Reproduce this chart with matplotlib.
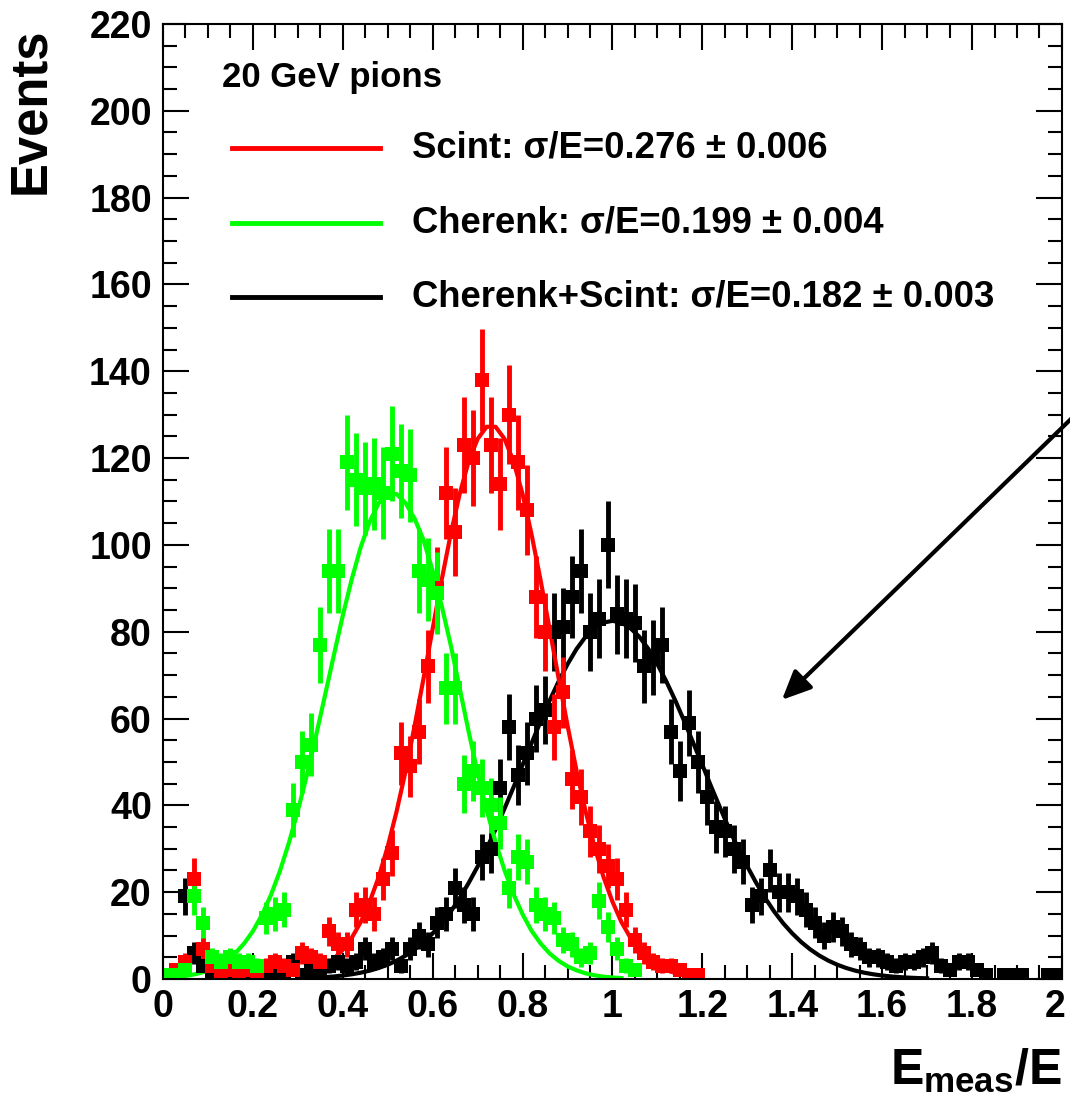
import numpy as np
import matplotlib.pyplot as plt
import matplotlib.transforms as mtransforms
from matplotlib.ticker import MultipleLocator, FuncFormatter

plt.rcParams['font.family'] = ['Liberation Sans', 'DejaVu Sans']
plt.rcParams['font.weight'] = 'bold'
plt.rcParams['mathtext.fontset'] = 'custom'
plt.rcParams['mathtext.rm'] = 'Liberation Sans:bold'
plt.rcParams['mathtext.it'] = 'Liberation Sans:bold'
plt.rcParams['mathtext.bf'] = 'Liberation Sans:bold'

# histogram: 100 bins of 0.02 from 0 to 2 (E_meas/E)
bin_width = 0.02
bin_centers = np.round(np.arange(0.01, 2.0, bin_width), 2)

# counts per bin
scint_counts = [1, 2, 4, 23, 7, 3, 1, 2, 1, 2,
                1, 3, 4, 3, 2, 6, 5, 4, 11, 8,
                8, 16, 17, 15, 23, 29, 52, 49, 57, 72,
                90, 112, 103, 123, 120, 138, 123, 114, 130, 119,
                108, 88, 80, 58, 66, 46, 42, 34, 30, 26,
                23, 16, 9, 6, 4, 3, 3, 2, 1, 1] + [0] * 40

cherenk_counts = [1, 1, 2, 19, 13, 5, 4, 5, 4, 4,
                  3, 14, 15, 16, 39, 50, 54, 77, 94, 94,
                  119, 115, 113, 114, 112, 121, 117, 116, 94, 92,
                  89, 67, 67, 45, 48, 44, 40, 36, 21, 28,
                  27, 17, 15, 14, 9, 8, 5, 6, 18, 12,
                  7, 3, 2] + [0] * 47

combined_counts = [0, 1, 19, 6, 3, 1, 1, 1, 2, 1,
                   0, 1, 1, 1, 4, 1, 2, 1, 3, 4,
                   3, 4, 7, 4, 5, 7, 3, 7, 10, 8,
                   13, 15, 21, 17, 15, 28, 30, 44, 58, 47,
                   52, 60, 62, 80, 81, 88, 94, 80, 83, 100,
                   84, 83, 82, 72, 74, 77, 57, 48, 59, 50,
                   42, 35, 34, 30, 27, 17, 19, 25, 20, 20,
                   19, 16, 13, 10, 12, 11, 8, 7, 5, 5,
                   4, 3, 4, 4, 5, 6, 3, 2, 4, 4,
                   2, 1, 0, 1, 1, 1, 0, 0, 1, 1]

# fitted curves, sampled every 0.02
scint_fit_x = np.round(np.linspace(0.30, 1.20, 46), 2)
scint_fit_y = [0.86, 1.35, 2.09, 3.15, 4.65, 6.71, 9.49, 13.1, 17.8, 23.5,
               30.5, 38.7, 48.0, 58.4, 69.4, 80.7, 91.9, 102.4, 111.7, 119.2,
               124.4, 127.2, 127.2, 124.4, 119.2, 111.7, 102.4, 91.9, 80.7, 69.4,
               58.4, 48.0, 38.7, 30.5, 23.5, 17.8, 13.1, 9.49, 6.71, 4.65,
               3.15, 2.09, 1.35, 0.86, 0.54, 0.33]

cherenk_fit_x = np.round(np.linspace(0.0, 1.02, 52), 2)
cherenk_fit_y = [0.21, 0.34, 0.54, 0.85, 1.30, 1.94, 2.86, 4.13, 5.84, 8.11,
                 11.0, 14.7, 19.3, 24.8, 31.3, 38.7, 46.9, 55.8, 65.1, 74.5,
                 83.7, 92.1, 99.5, 105.4, 109.6, 111.7, 111.7, 109.6, 106, 101,
                 94, 86, 77, 67, 57, 47.5, 39, 31.5, 25, 19.5,
                 14.9, 11.1, 8.2, 5.9, 4.2, 2.9, 2.0, 1.3, 0.85, 0.54,
                 0.34, 0.21]

combined_fit_x = np.round(np.linspace(0.30, 1.70, 71), 2)
combined_fit_y = [0.15, 0.21, 0.30, 0.42, 0.58, 0.80, 1.08, 1.45, 1.92, 2.53,
                  3.29, 4.24, 5.40, 6.81, 8.50, 10.5, 12.8, 15.5, 18.6, 22.1,
                  25.9, 30.0, 34.5, 39.3, 44.2, 49.3, 54.3, 59.3, 64.1, 68.5,
                  72.5, 76.0, 78.8, 80.8, 82.1, 82.5, 82.1, 80.8, 78.8, 76.0,
                  72.5, 68.5, 64.1, 59.3, 54.3, 49.3, 44.2, 39.3, 34.5, 30.0,
                  25.9, 22.1, 18.6, 15.5, 12.8, 10.5, 8.50, 6.81, 5.40, 4.24,
                  3.29, 2.53, 1.92, 1.45, 1.08, 0.80, 0.58, 0.42, 0.30, 0.21,
                  0.15]

labels = ['Scint: σ/E=0.276 ± 0.006',
          'Cherenk: σ/E=0.199 ± 0.004',
          'Cherenk+Scint: σ/E=0.182 ± 0.003']
colors = ['#ff0000', '#00ff00', '#000000']

fig = plt.figure(figsize=(10.7, 10.98), dpi=100)
ax = fig.add_axes([0.1523, 0.1084, 0.8402, 0.8698])

# draw order: black, red, green (green ends up on top)
series = [
    (combined_counts, combined_fit_x, combined_fit_y, colors[2]),
    (scint_counts, scint_fit_x, scint_fit_y, colors[0]),
    (cherenk_counts, cherenk_fit_x, cherenk_fit_y, colors[1]),
]
for counts, fx, fy, col in series:
    counts = np.array(counts, dtype=float)
    m = counts > 0
    ax.errorbar(bin_centers[m], counts[m], yerr=np.sqrt(counts[m]),
                xerr=bin_width / 2, fmt='s', color=col, ms=9.5, mew=0,
                elinewidth=3.5, capsize=0)
    ax.plot(fx, fy, color=col, lw=3)

ax.set_xlim(0, 2)
ax.set_ylim(0, 220)
ax.xaxis.set_major_locator(MultipleLocator(0.2))
ax.xaxis.set_minor_locator(MultipleLocator(0.05))
ax.yaxis.set_major_locator(MultipleLocator(20))
ax.yaxis.set_minor_locator(MultipleLocator(5))
# the last label ("2") is drawn separately so it stays inside the figure
ax.xaxis.set_major_formatter(
    FuncFormatter(lambda v, p: '' if v > 1.99 else '%g' % round(v, 2)))
ax.tick_params(which='both', direction='in', top=True, right=True, width=1.5,
               labelsize=27)
ax.tick_params(which='major', length=19)
ax.tick_params(which='minor', length=10)
ax.tick_params(axis='y', pad=8)
ax.tick_params(axis='x', pad=7)
for s in ax.spines.values():
    s.set_linewidth(1.5)

end_tf = ax.get_xaxis_transform() + mtransforms.ScaledTranslation(
    -7 / 100, -9.7 / 100, fig.dpi_scale_trans)
ax.text(2.0, 0, '2', transform=end_tf, ha='center', va='top', fontsize=27,
        clip_on=False)

# legend drawn by hand, ROOT style
ax.text(0.0656, 0.9435, '20 GeV pions', transform=ax.transAxes,
        ha='left', va='center', fontsize=25)
for i, (lab, col) in enumerate(zip(labels, colors)):
    y = 0.870 - i * 0.078
    ax.plot([0.0768, 0.2414], [y, y], transform=ax.transAxes, color=col, lw=3.5)
    ax.text(0.277, y, lab, transform=ax.transAxes, ha='left', va='center',
            fontsize=26.3)

fig.text(31 / 1070, 1 - 28 / 1098, 'Events', rotation=90, ha='center',
         va='top', fontsize=36.5)
fig.text(1062 / 1070, 1 - 1071 / 1098, r'$E_{meas}/E$', ha='right',
         va='center', fontsize=36)

ax.annotate('', xy=(1.377, 64.3), xytext=(2.03, 130),
            arrowprops=dict(arrowstyle='-|>,head_length=0.55,head_width=0.25',
                            color='black', lw=3, mutation_scale=32,
                            shrinkA=0, shrinkB=0),
            annotation_clip=False)

fig.savefig('out.png', dpi=100)
